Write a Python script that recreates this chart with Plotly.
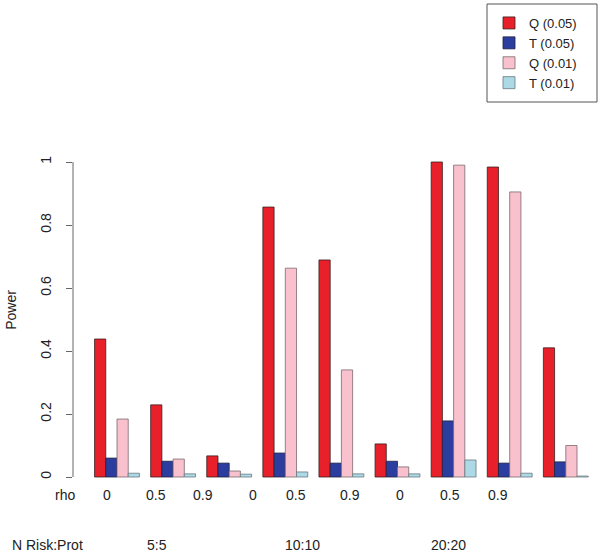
import plotly.graph_objects as go

# ---- data ----
groups = ["5:5 rho0", "5:5 rho0.5", "5:5 rho0.9",
          "10:10 rho0", "10:10 rho0.5", "10:10 rho0.9",
          "20:20 rho0", "20:20 rho0.5", "20:20 rho0.9"]
series_names = ["Q (0.05)", "T (0.05)", "Q (0.01)", "T (0.01)"]
q05 = [0.438, 0.229, 0.067, 0.857, 0.689, 0.105, 1.000, 0.984, 0.410]
t05 = [0.060, 0.050, 0.044, 0.076, 0.044, 0.050, 0.178, 0.044, 0.048]
q01 = [0.184, 0.057, 0.019, 0.663, 0.340, 0.032, 0.990, 0.905, 0.100]
t01 = [0.012, 0.010, 0.009, 0.016, 0.010, 0.010, 0.054, 0.012, 0.003]
rho_labels = ["0", "0.5", "0.9", "0", "0.5", "0.9", "0", "0.5", "0.9"]
n_labels = ["5:5", "10:10", "20:20"]
y_ticks = [0, 0.2, 0.4, 0.6, 0.8, 1]
y_tick_text = ["0", "0.2", "0.4", "0.6", "0.8", "1"]

colors = ["#e8202a", "#2b3ea0", "#f9c0cd", "#add8e6"]
line_colors = ["#3a2020", "#202040", "#7a6a6e", "#6a7a80"]

# ---- layout geometry (pixels) ----
W, H = 600, 554
ml, mr, mt, mb = 73, 5, 140, 74
pw = W - ml - mr
ph = H - mt - mb
px_per_group = 56.1
x0_center = 117
x_start = -(x0_center - ml) / px_per_group
x_end = x_start + pw / px_per_group
px_per_unit_y = 315.0
y_zero_px = 477
y_top = (y_zero_px - mt) / px_per_unit_y
y_bot = -((H - mb) - y_zero_px) / px_per_unit_y


def xp(px):
    return (px - ml) / pw


def yp(py):
    return ((H - mb) - py) / ph


fig = go.Figure()
xs = list(range(len(groups)))
for name, vals, c, lc in zip(series_names, [q05, t05, q01, t01], colors, line_colors):
    fig.add_trace(go.Bar(x=xs, y=vals, name=name,
                         marker=dict(color=c, line=dict(color=lc, width=0.8))))

font_fam = "Liberation Sans, Arial, sans-serif"
fs = 14
fig.update_layout(
    width=W, height=H,
    margin=dict(l=ml, r=mr, t=mt, b=mb, autoexpand=False),
    paper_bgcolor="white", plot_bgcolor="white",
    barmode="group", bargap=0.2, bargroupgap=0,
    font=dict(family=font_fam, size=fs, color="#222"),
    showlegend=True,
    legend=dict(x=xp(489), y=yp(8), xanchor="left", yanchor="top",
                borderwidth=0, bgcolor="rgba(0,0,0,0)",
                font=dict(size=13, color="#222"),
                tracegroupgap=0, itemwidth=30),
    xaxis=dict(range=[x_start, x_end], showticklabels=False, showgrid=False,
               zeroline=False, showline=False, ticks=""),
    yaxis=dict(range=[y_bot, y_top], tickvals=y_ticks, ticktext=y_tick_text,
               tickangle=-90, ticks="outside", ticklen=6, tickcolor="#666",
               tickwidth=1, showgrid=False, zeroline=False, showline=False,
               ticklabelstandoff=9, tickfont=dict(size=fs),
               title=dict(text="Power", standoff=18, font=dict(size=fs))),
)

# legend frame
fig.add_shape(type="rect", xref="paper", yref="paper",
              x0=xp(487), x1=xp(597), y0=yp(102), y1=yp(4),
              line=dict(color="#555", width=1))

# R-style y axis line from 0 to 1
fig.add_shape(type="line", xref="paper", yref="y", x0=0, x1=0,
              y0=y_ticks[0], y1=y_ticks[-1], line=dict(color="#666", width=1))

# bottom labels
rho_x = [107, 156, 203, 253, 296, 350, 400, 450, 498]
ann = dict(xref="paper", yref="paper", showarrow=False,
           xanchor="center", yanchor="middle", font=dict(size=fs))
fig.add_annotation(text="rho", x=xp(65), y=yp(495), **ann)
for lab, px in zip(rho_labels, rho_x):
    fig.add_annotation(text=lab, x=xp(px), y=yp(495), **ann)
n_x = [157, 302, 448]
fig.add_annotation(text="N Risk:Prot", x=xp(47), y=yp(545), **ann)
for lab, px in zip(n_labels, n_x):
    fig.add_annotation(text=lab, x=xp(px), y=yp(545), **ann)

fig.write_html("out.html", config={"displayModeBar": False},
               post_script="document.body.style.margin='0';")
